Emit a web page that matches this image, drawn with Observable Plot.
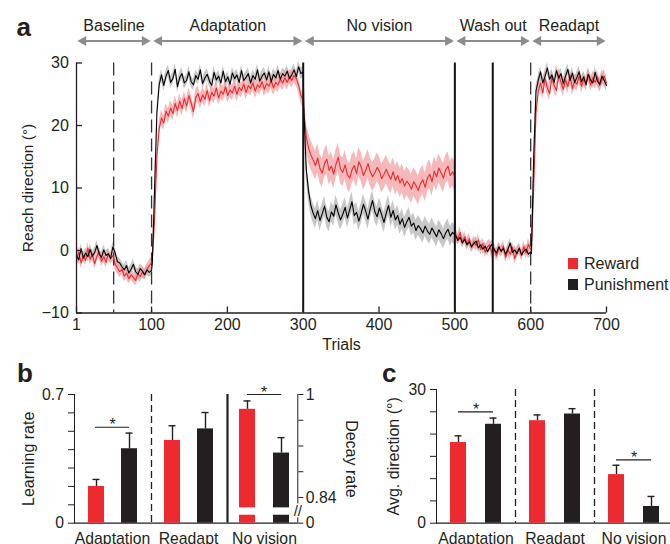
<!DOCTYPE html>
<html><head><meta charset="utf-8">
<script src="https://cdn.jsdelivr.net/npm/d3@7"></script>
<script src="https://cdn.jsdelivr.net/npm/@observablehq/plot@0.6"></script>
<style>
body{margin:0;background:#fff;}
#chart{position:relative;width:670px;height:544px;overflow:hidden;background:#fff;font-family:"Liberation Sans",Arial,Helvetica,sans-serif;color:#231f20;}
.plabel{position:absolute;font-weight:bold;font-size:26px;line-height:1;}
.leg{position:absolute;font-size:16px;line-height:1;white-space:nowrap;}
.sw{position:absolute;width:10px;height:10.7px;}
</style></head><body><div id="chart"></div>
<script>
// ---------------- Panel a data ----------------
const phaseNames = ["Baseline", "Adaptation", "No vision", "Wash out", "Readapt"];
const phaseStart = [1, 101, 301, 501, 601];
const phaseEnd = [100, 300, 500, 600, 700];
const trialDomain = [1, 700];
const trialTicks = [1, 100, 200, 300, 400, 500, 600, 700];
const directionDomain = [-10, 30];
const directionTicks = [-10, 0, 10, 20, 30];
const dashedTrials = [50, 100, 600];
const solidTrials = [300, 500, 550];

const rewardBaseline = [-1.2, -0.3, -2.0, -0.8, -1.6, 0.4, -1.4, -0.6, -2.1, -0.9, -0.2, -1.7, -1.0, -1.9, -0.5, -1.3, -0.8, -2.2, -2.8, -3.4, -3.0, -4.1, -3.6, -4.5, -3.9, -4.3, -4.8, -3.7, -4.2, -3.5, -3.8, -3.0, -2.4, -2.0];
const rewardAdaptation = [-1.5, 5, 15, 19.5, 21.2, 20.4, 22.3, 21.5, 22.8, 21.9, 23.5, 22.4, 23.9, 22.7, 24.3, 23.1, 24.8, 23.6, 22.2, 24.5, 25.1, 23.8, 24.9, 24.2, 25.6, 24.0, 25.3, 24.7, 26.0, 24.4, 25.5, 25.0, 26.2, 24.8, 25.7, 25.2, 26.3, 25.0, 26.1, 25.6, 26.6, 25.3, 26.4, 25.9, 26.8, 25.5, 26.5, 26.1, 27.0, 25.8, 26.7, 26.3, 27.2, 26.0, 26.9, 26.5, 27.4, 26.8, 27.6, 26.9, 27.8, 27.2, 28.0, 27.5, 26.4, 24.8, 24.0];
const rewardNoVision = [22.0, 18.2, 16.4, 15.3, 14.5, 13.6, 14.8, 13.1, 12.4, 13.9, 14.6, 12.8, 13.5, 12.2, 13.8, 14.9, 13.0, 12.5, 13.7, 12.1, 11.6, 12.9, 13.6, 12.3, 14.2, 13.4, 12.0, 12.8, 13.9, 12.6, 11.8, 12.4, 13.3, 12.7, 11.5, 12.2, 13.0, 12.1, 11.4, 12.6, 11.2, 12.0, 10.8, 11.5, 10.3, 11.1, 10.6, 9.8, 11.0, 10.4, 9.6, 10.7, 11.3, 10.1, 11.6, 12.2, 11.0, 12.7, 11.8, 13.2, 12.4, 11.6, 12.9, 13.5, 12.0, 12.6, 11.8];
const rewardWashout = [2.6, 1.8, 2.9, 1.3, 2.2, 1.0, 1.9, 0.5, 1.4, 0.8, 1.7, 0.2, 1.1, -0.3, 0.6, 0.9, -0.5, 0.3, -0.9, 0.4, -0.2, 0.7, -1.1, 0.1, -0.6, 0.5, -1.3, -0.2, 0.3, -0.8, 0.6, -0.4, 1.0, 0.2];
const rewardReadapt = [0.2, 10, 22, 25.5, 26.8, 25.2, 27.5, 26.0, 25.1, 27.8, 26.4, 25.6, 28.1, 26.9, 25.8, 27.3, 26.2, 28.0, 25.9, 27.1, 26.6, 27.9, 26.3, 27.4, 26.8, 28.2, 26.5, 27.6, 26.9, 27.8, 26.4, 27.3, 27.9, 26.8];
const rewardSem = [0.9, 1.2, 2.3, 0.9, 1.1];

const punishBaseline = [-0.8, -1.5, 0.3, -1.2, -0.4, -1.0, 0.2, -0.9, -0.3, 0.8, -0.6, -1.1, 0.1, -0.8, -0.5, -1.3, 0.6, -0.4, -1.8, -2.0, -2.6, -3.1, -2.4, -3.6, -3.0, -2.2, -3.4, -3.8, -2.9, -3.3, -3.9, -3.1, -3.5, -3.2];
const punishAdaptation = [-2.0, 10.0, 22.0, 26.5, 28.1, 26.4, 27.9, 28.8, 26.9, 27.5, 29.0, 26.2, 27.7, 28.3, 26.8, 27.2, 28.6, 27.0, 26.5, 28.0, 27.4, 28.9, 26.7, 27.6, 28.2, 27.1, 26.4, 28.5, 27.3, 27.9, 26.8, 28.7, 27.0, 27.8, 26.6, 28.4, 27.5, 28.1, 26.9, 28.8, 27.2, 27.7, 28.3, 26.8, 28.0, 27.4, 28.9, 27.1, 27.9, 28.4, 27.3, 28.6, 27.0, 28.2, 27.6, 28.8, 27.4, 28.3, 27.9, 28.7, 27.5, 28.1, 28.9, 27.8, 29.4, 28.3, 28.6];
const punishNoVision = [22.0, 13.0, 9.5, 7.2, 6.0, 5.1, 6.4, 4.8, 5.9, 7.1, 5.3, 4.6, 6.2, 5.5, 7.3, 6.0, 4.9, 5.8, 6.9, 5.2, 6.5, 7.8, 5.6, 6.1, 4.7, 5.9, 7.4, 6.3, 5.0, 6.7, 8.0, 6.2, 5.4, 6.8, 5.7, 4.5, 6.0, 7.2, 5.3, 6.4, 4.9, 5.6, 4.2, 5.1, 3.7, 4.6, 5.3, 3.9, 4.4, 3.2, 4.0, 3.5, 2.8, 3.9, 3.1, 2.6, 3.6, 2.9, 2.2, 3.3, 2.7, 1.9, 2.8, 3.4, 2.3, 2.9, 2.5];
const punishWashout = [2.4, 1.6, 2.1, 1.2, 1.8, 0.9, 1.4, 0.6, 1.1, 1.5, 0.4, 0.9, 0.2, 0.7, -0.2, 0.5, 1.0, 0.1, -0.4, 0.6, -0.1, 0.3, -0.6, 0.2, 1.2, -0.3, 0.1, -0.5, 0.4, -0.7, -0.1, 0.2, -0.6, -0.2];
const punishReadapt = [-0.5, 15, 25.5, 27.2, 28.6, 26.8, 27.9, 29.2, 27.4, 28.1, 26.9, 28.8, 27.6, 28.3, 26.7, 27.9, 29.0, 27.2, 28.4, 26.9, 27.7, 28.6, 27.0, 27.8, 26.5, 28.2, 27.3, 26.8, 28.5, 27.1, 26.6, 27.9, 27.2, 26.4];
const punishSem = [0.8, 0.9, 1.6, 0.7, 0.9];

// ---------------- Panels b, c data ----------------
const groups = ["Adaptation", "Readapt", "No vision"];
const conditions = ["Reward", "Punishment"];
const learningRate = [0.20, 0.405, 0.45, 0.513];   // Adaptation R,P ; Readapt R,P
const learningErr = [0.038, 0.085, 0.08, 0.089];
const learningTicks = [0, 0.1, 0.2, 0.3, 0.4, 0.5, 0.6, 0.7];
const learningTickLabels = ["0", "", "", "", "", "", "", "0.7"];
const decayRate = [0.977, 0.909];                  // No vision R,P
const decayErr = [0.013, 0.024];
const decayTicks = [0, 0.84, 0.88, 0.92, 0.96, 1];
const decayTickLabels = ["0", "0.84", "", "", "", "1"];
const decayBreak = [0.26, 0.50];
const decayFloor = 0.80;   // axis position standing for 0 (0–0.84 span compressed below the break)
const avgDirection = [18.1, 22.2, 23.0, 24.5, 10.9, 3.75];
const avgDirectionErr = [1.5, 1.4, 1.3, 1.2, 2.1, 2.25];
const avgTicks = [0, 5, 10, 15, 20, 25, 30];
const avgTickLabels = ["0", "", "", "", "", "", "30"];
const sigLearning = [{group: "Adaptation", y: 0.522}];
const sigDecay = [{group: "No vision", y: 1.0}];
const sigAvg = [{group: "Adaptation", y: 25.0}, {group: "No vision", y: 14.2}];

// ---------------- Build ----------------
const FONT = '"Liberation Sans", Arial, Helvetica, sans-serif';
const INK = "#231f20";
const RED = "#ed2a2f";
const ARROW = "#8c8c8c";
const chart = document.getElementById("chart");

function series(name, phaseVals, sems) {
  const rows = [];
  phaseVals.forEach((vals, p) => {
    const s = phaseStart[p], e = phaseEnd[p], n = vals.length;
    vals.forEach((v, k) => rows.push({series: name, trial: s + k * (e - s) / (n - 1), value: v, lo: v - sems[p], hi: v + sems[p]}));
  });
  return rows;
}
const rewardRows = series("Reward", [rewardBaseline, rewardAdaptation, rewardNoVision, rewardWashout, rewardReadapt], rewardSem);
const punishRows = series("Punishment", [punishBaseline, punishAdaptation, punishNoVision, punishWashout, punishReadapt], punishSem);
const phaseRows = phaseNames.map((name, i) => ({name, start: phaseStart[i], end: phaseEnd[i]}));

function place(el, left, top) {
  el.style.position = "absolute";
  el.style.left = left + "px";
  el.style.top = top + "px";
  el.style.maxWidth = "none";
  el.style.background = "transparent";
  el.style.overflow = "visible";
  chart.appendChild(el);
}
const labelMap = (ticks, labels) => { const m = new Map(ticks.map((t, i) => [t, labels[i]])); return d => m.get(d) ?? ""; };

// Panel a
const aMT = 62.5, aMB = 57.5, aML = 76, aMR = 64, aH = 370, aWd = 670;
const aFrameW = aWd - aML - aMR, aFrameH = aH - aMT - aMB;
const top30 = directionDomain[1];
const plotA = Plot.plot({
  width: aWd, height: aH, marginTop: aMT, marginBottom: aMB, marginLeft: aML, marginRight: aMR,
  x: {domain: trialDomain, ticks: trialTicks, tickFormat: d => String(d), tickSize: 0, tickPadding: 5.8, label: null},
  y: {domain: directionDomain, ticks: directionTicks, tickSize: 0, tickPadding: 7.7, label: null},
  style: {fontFamily: FONT, fontSize: "16px", color: INK},
  marks: [
    Plot.areaY(punishRows, {x: "trial", y1: "lo", y2: "hi", fill: "#bdbdbd", fillOpacity: 0.85}),
    Plot.areaY(rewardRows, {x: "trial", y1: "lo", y2: "hi", fill: "#f39a9c", fillOpacity: 0.7}),
    Plot.ruleX(dashedTrials, {x: d => d, stroke: "#333", strokeWidth: 1.3, strokeDasharray: "13,6"}),
    Plot.line(rewardRows, {x: "trial", y: "value", stroke: RED, strokeWidth: 1.1}),
    Plot.line(punishRows, {x: "trial", y: "value", stroke: "#000", strokeWidth: 1.1}),
    Plot.ruleX(solidTrials, {x: d => d, stroke: "#111", strokeWidth: 2}),
    Plot.ruleX([trialDomain[0]], {x: d => d, stroke: INK, strokeWidth: 1.3}),
    Plot.ruleY([directionDomain[0]], {y: d => d, stroke: INK, strokeWidth: 1.3}),
    Plot.tickX(trialTicks, {x: d => d, insetTop: aFrameH - 6, stroke: INK, strokeWidth: 1.3}),
    Plot.tickY(directionTicks, {y: d => d, insetRight: aFrameW - 6, stroke: INK, strokeWidth: 1.3}),
    Plot.ruleY(phaseRows, {x1: "start", x2: "end", y: () => top30, dy: -22, insetLeft: 6, insetRight: 6, stroke: ARROW, strokeWidth: 2.2}),
    Plot.dot(phaseRows, {x: "start", y: () => top30, dy: -22, dx: 6.8, symbol: "triangle", rotate: -90, r: 3.8, fill: ARROW, stroke: null}),
    Plot.dot(phaseRows, {x: "end", y: () => top30, dy: -22, dx: -6.8, symbol: "triangle", rotate: 90, r: 3.8, fill: ARROW, stroke: null}),
    Plot.text(phaseRows, {x: d => (d.start + d.end) / 2, y: () => top30, dy: -36.9, text: "name", fontSize: 16}),
    Plot.text(["Reach direction (°)"], {frameAnchor: "left", textAnchor: "middle", rotate: -90, dx: -48, fontSize: 15.5}),
    Plot.text(["Trials"], {frameAnchor: "bottom", dy: 37.2, fontSize: 16})
  ]
});
place(plotA, 0, 0);

// Panel b (left scale: learning rate)
const bTop = 370, bH = 174, bMT = 24, bMB = 21.3;
const bFacetW = 76, bML = 74, bW = 340;
const bPI = 0.52, bPO = 0.378;
const bStep = bFacetW / (2 - bPI + 2 * bPO);
const bEdge = bPO * bStep + (1 - bPI) * bStep / 2;
const learnRows = [];
groups.slice(0, 2).forEach((g, gi) => conditions.forEach((c, ci) => learnRows.push({group: g, cond: c, value: learningRate[gi * 2 + ci], err: learningErr[gi * 2 + ci]})));
const plotB1 = Plot.plot({
  width: bW, height: bH, marginTop: bMT, marginBottom: bMB, marginLeft: bML, marginRight: bW - bML - 3 * bFacetW,
  fx: {domain: groups, padding: 0, axis: "bottom", label: null, tickSize: 0, tickPadding: 9.3},
  x: {domain: conditions, paddingInner: bPI, paddingOuter: bPO, axis: null},
  y: {domain: [0, 0.7], ticks: learningTicks, tickFormat: labelMap(learningTicks, learningTickLabels), tickSize: 6, tickPadding: 4.5, line: true, label: null},
  color: {domain: conditions, range: [RED, INK]},
  style: {fontFamily: FONT, fontSize: "15.75px", color: INK},
  marks: [
    Plot.ruleY(groups.slice(0, 2), {fx: d => d, y: () => 0, stroke: INK, strokeWidth: 1.3}),
    Plot.barY(learnRows, {fx: "group", x: "cond", y: "value", fill: "cond"}),
    Plot.ruleX(learnRows, {fx: "group", x: "cond", y1: "value", y2: d => d.value + d.err, stroke: INK, strokeWidth: 1.4}),
    Plot.tickY(learnRows, {fx: "group", x: "cond", y: d => d.value + d.err, insetLeft: 4.5, insetRight: 4.5, stroke: INK, strokeWidth: 1.4}),
    Plot.ruleY(sigLearning, {fx: "group", y: "y", insetLeft: 21, insetRight: 21, stroke: INK, strokeWidth: 1.2}),
    Plot.text(sigLearning, {fx: "group", y: "y", text: () => "*", dy: -2, fontSize: 16}),
    Plot.ruleX([groups[1]], {fx: d => d, x: () => conditions[0], dx: -bEdge, stroke: INK, strokeWidth: 1.3, strokeDasharray: "7,4"}),
    Plot.ruleX([groups[2]], {fx: d => d, x: () => conditions[0], dx: -bEdge, stroke: INK, strokeWidth: 2.2}),
    Plot.text(["Learning rate"], {fx: () => groups[0], frameAnchor: "left", textAnchor: "middle", rotate: -90, dx: -46.1, fontSize: 16})
  ]
});
place(plotB1, 0, bTop);

// Panel b (right scale: decay rate, broken axis)
const b2ML = 226, b2Right = 297.3;
const toAxis = v => v >= decayTicks[1] ? v : decayFloor + v * (decayTicks[1] - decayFloor) / decayTicks[1];
const decayTickPos = decayTicks.map(toAxis);
const decayRows = conditions.map((c, i) => ({group: groups[2], cond: c, value: decayRate[i], err: decayErr[i]}));
const plotB2 = Plot.plot({
  width: bW, height: bH, marginTop: bMT, marginBottom: bMB, marginLeft: b2ML, marginRight: bW - b2Right,
  x: {domain: conditions, range: [230.7, b2Right], paddingInner: 0.534, paddingOuter: 0.238, axis: null},
  y: {domain: [toAxis(0), decayTicks[decayTicks.length - 1]], axis: "right", ticks: decayTickPos, tickFormat: labelMap(decayTickPos, decayTickLabels), tickSize: 5, tickPadding: 3, line: true, label: null},
  color: {domain: conditions, range: [RED, INK]},
  style: {fontFamily: FONT, fontSize: "15.75px", color: INK},
  marks: [
    Plot.ruleY([toAxis(0)], {y: d => d, stroke: INK, strokeWidth: 1.3}),
    Plot.barY(decayRows, {x: "cond", y1: () => toAxis(decayBreak[1]), y2: d => toAxis(d.value), fill: "cond"}),
    Plot.barY(decayRows, {x: "cond", y1: () => toAxis(0), y2: () => toAxis(decayBreak[0]), fill: "cond"}),
    Plot.ruleX(decayRows, {x: "cond", y1: d => toAxis(d.value), y2: d => toAxis(d.value + d.err), stroke: INK, strokeWidth: 1.4}),
    Plot.tickY(decayRows, {x: "cond", y: d => toAxis(d.value + d.err), insetLeft: 4.5, insetRight: 4.5, stroke: INK, strokeWidth: 1.4}),
    Plot.ruleY(sigDecay, {y: d => toAxis(d.y), insetLeft: 20.9, insetRight: 16.1, stroke: INK, strokeWidth: 1.2}),
    Plot.text(sigDecay, {y: d => toAxis(d.y), text: () => "*", dx: 2, dy: -2, fontSize: 16}),
    Plot.text(["//"], {frameAnchor: "right", textAnchor: "middle", y: () => toAxis((decayBreak[0] + decayBreak[1]) / 2), text: d => d, fontSize: 15, fill: INK, stroke: "white", strokeWidth: 3, paintOrder: "stroke"}),
    Plot.text(["Decay rate"], {frameAnchor: "right", textAnchor: "middle", rotate: 90, dx: 53.8, fontSize: 16})
  ]
});
place(plotB2, 0, bTop);

// Panel c
const cLeft = 335, cML = 101, cFacetW = 79, cMT = 19, cMB = 21.3;
const cPI = 0.529, cPO = 0.393;
const cStep = cFacetW / (2 - cPI + 2 * cPO);
const cEdge = cPO * cStep + (1 - cPI) * cStep / 2;
const avgRows = [];
groups.forEach((g, gi) => conditions.forEach((c, ci) => avgRows.push({group: g, cond: c, value: avgDirection[gi * 2 + ci], err: avgDirectionErr[gi * 2 + ci]})));
const plotC = Plot.plot({
  width: cML + 3 * cFacetW, height: bH, marginTop: cMT, marginBottom: cMB, marginLeft: cML, marginRight: 0,
  fx: {domain: groups, padding: 0, axis: "bottom", label: null, tickSize: 0, tickPadding: 9.3},
  x: {domain: conditions, paddingInner: cPI, paddingOuter: cPO, axis: null},
  y: {domain: [0, 30], ticks: avgTicks, tickFormat: labelMap(avgTicks, avgTickLabels), tickSize: 6, tickPadding: 4.5, line: true, label: null},
  color: {domain: conditions, range: [RED, INK]},
  style: {fontFamily: FONT, fontSize: "15.75px", color: INK},
  marks: [
    Plot.ruleY([0], {y: d => d, stroke: INK, strokeWidth: 1.3}),
    Plot.barY(avgRows, {fx: "group", x: "cond", y: "value", fill: "cond"}),
    Plot.ruleX(avgRows, {fx: "group", x: "cond", y1: "value", y2: d => d.value + d.err, stroke: INK, strokeWidth: 1.4}),
    Plot.tickY(avgRows, {fx: "group", x: "cond", y: d => d.value + d.err, insetLeft: 4.5, insetRight: 4.5, stroke: INK, strokeWidth: 1.4}),
    Plot.ruleY(sigAvg, {fx: "group", y: "y", insetLeft: 22, insetRight: 22, stroke: INK, strokeWidth: 1.2}),
    Plot.text(sigAvg, {fx: "group", y: "y", text: () => "*", dy: -2, fontSize: 16}),
    Plot.ruleX(groups.slice(1), {fx: d => d, x: () => conditions[0], dx: -cEdge, stroke: INK, strokeWidth: 1.3, strokeDasharray: "7,4"}),
    Plot.text(["Avg. direction (°)"], {fx: () => groups[0], frameAnchor: "left", textAnchor: "middle", rotate: -90, dx: -42.8, fontSize: 16})
  ]
});
place(plotC, cLeft, bTop);

// Panel letters
[["a", 16.5, 14], ["b", 17, 360], ["c", 382, 360]].forEach(([t, l, tp]) => {
  const d = document.createElement("div"); d.className = "plabel"; d.textContent = t;
  d.style.left = l + "px"; d.style.top = tp + "px"; chart.appendChild(d);
});
// Legend
conditions.forEach((c, i) => {
  const sw = document.createElement("div"); sw.className = "sw";
  sw.style.left = "568px"; sw.style.top = (258.3 + i * 21) + "px"; sw.style.background = i === 0 ? RED : INK;
  chart.appendChild(sw);
  const t = document.createElement("div"); t.className = "leg"; t.textContent = c;
  t.style.left = "584px"; t.style.top = (255.5 + i * 21) + "px";
  chart.appendChild(t);
});
</script></body></html>
